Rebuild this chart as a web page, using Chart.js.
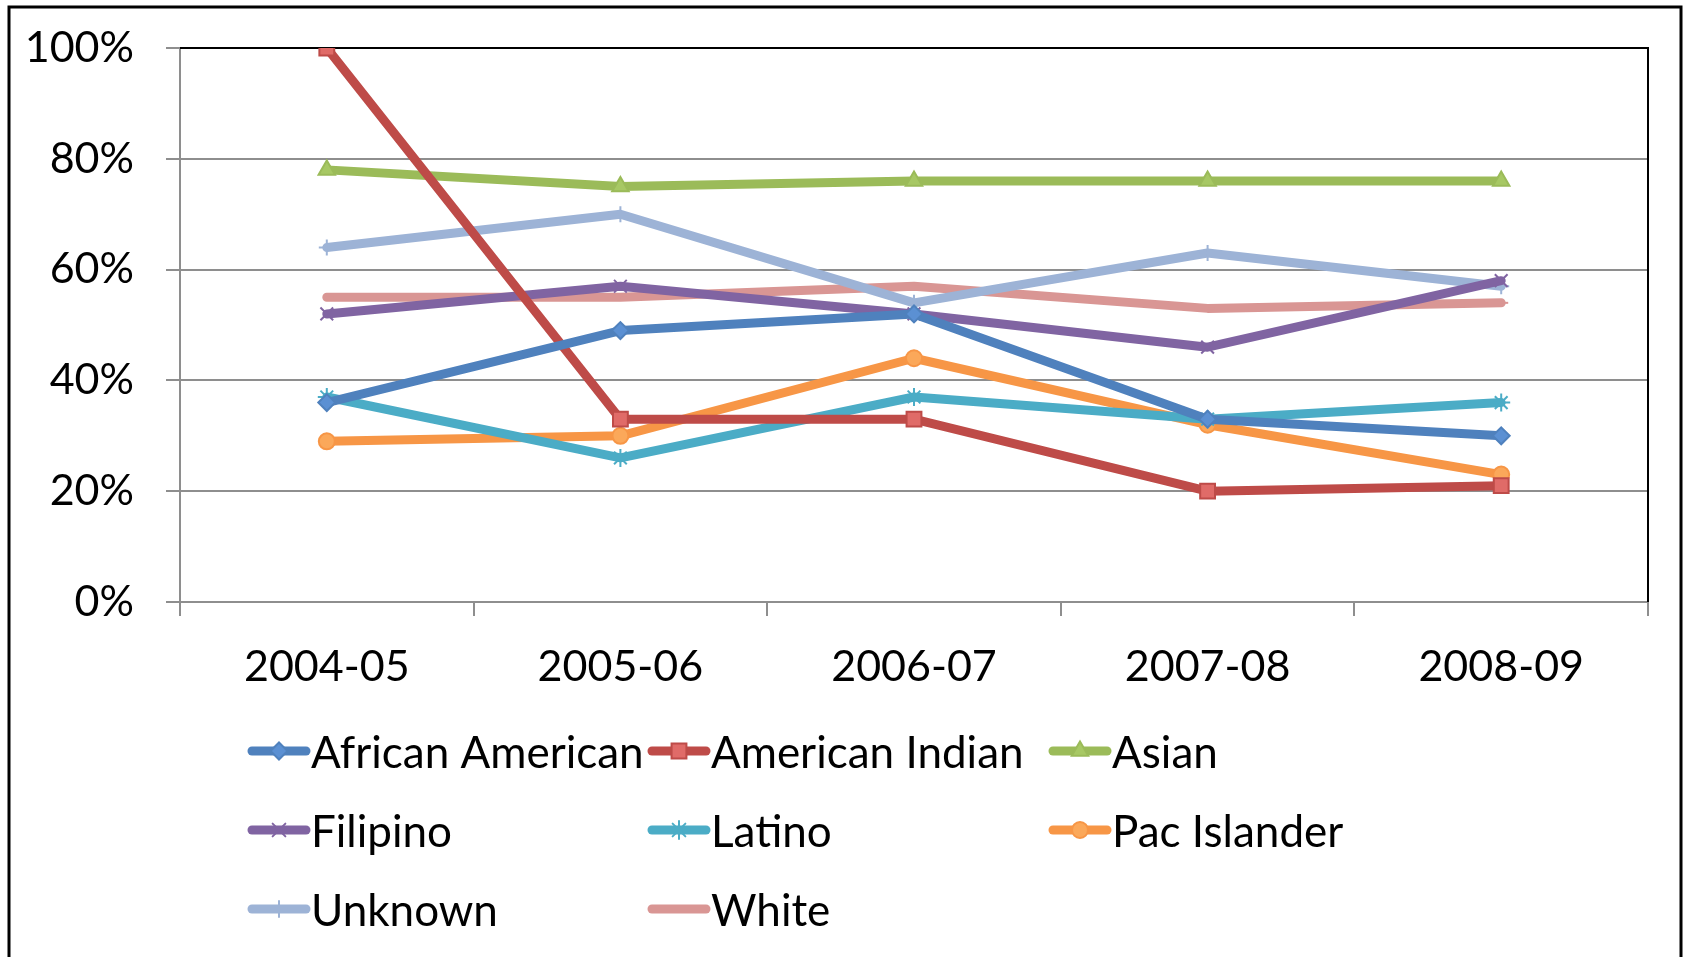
<!DOCTYPE html>
<html>
<head>
<meta charset="utf-8">
<script src="https://cdn.jsdelivr.net/npm/chart.js"></script>
<style>
  html, body { margin: 0; padding: 0; background: #fff; }
  #wrap { width: 1683px; height: 957px; position: relative; }
</style>
</head>
<body>
<div id="wrap"><canvas id="myChart" width="1683" height="957"></canvas></div>
<script>
const years = ['2004-05', '2005-06', '2006-07', '2007-08', '2008-09'];

const africanAmerican = [36, 49, 52, 33, 30];
const americanIndian = [100, 33, 33, 20, 21];
const asian = [78, 75, 76, 76, 76];
const filipino = [52, 57, 52, 46, 58];
const latino = [37, 26, 37, 33, 36];
const pacIslander = [29, 30, 44, 32, 23];
const unknown = [64, 70, 54, 63, 57];
const white = [55, 55, 57, 53, 54];

const yTickValues = [0, 20, 40, 60, 80, 100];

const FONT = 'Lato';
const GRAY = '#8e8e8e';

function series(label, data, line, fill, style, radius) {
    return {
        label: label,
        data: data,
        borderColor: line,
        backgroundColor: fill,
        borderWidth: 9,
        borderJoinStyle: 'round',
        borderCapStyle: 'round',
        tension: 0,
        fill: false,
        pointStyle: style,
        pointRadius: radius,
        pointBackgroundColor: fill,
        pointBorderColor: line,
        pointBorderWidth: 2
    };
}

// legend laid out in a 3 column grid, like the original
const legendGrid = {
    id: 'legendGrid',
    afterDraw(chart) {
        const ctx = chart.ctx;
        const cols = [252, 652, 1053];
        const rows = [751, 830, 909];
        chart.data.datasets.forEach((ds, i) => {
            const x = cols[i % 3];
            const y = rows[Math.floor(i / 3)];
            ctx.save();
            ctx.strokeStyle = ds.borderColor;
            ctx.lineWidth = 9;
            ctx.lineCap = 'round';
            ctx.beginPath();
            ctx.moveTo(x, y);
            ctx.lineTo(x + 54, y);
            ctx.stroke();
            if (Chart.helpers && Chart.helpers.drawPoint) {
                ctx.fillStyle = ds.pointBackgroundColor;
                ctx.strokeStyle = ds.pointBorderColor;
                ctx.lineWidth = ds.pointBorderWidth;
                Chart.helpers.drawPoint(ctx, {
                    pointStyle: ds.pointStyle,
                    radius: ds.pointRadius,
                    rotation: 0,
                    borderWidth: ds.pointBorderWidth
                }, x + 27, y);
            }
            ctx.fillStyle = '#000';
            ctx.font = '44px ' + FONT;
            ctx.textBaseline = 'middle';
            ctx.textAlign = 'left';
            ctx.fillText(ds.label, x + 59, y + 3);
            ctx.restore();
        });
    }
};

// black top/right frame of the plot area and the outer chart border
const frames = {
    id: 'frames',
    beforeDatasetsDraw(chart) {
        const a = chart.chartArea;
        const ctx = chart.ctx;
        ctx.save();
        ctx.strokeStyle = '#000';
        ctx.lineWidth = 2;
        ctx.beginPath();
        ctx.moveTo(a.left, a.top);
        ctx.lineTo(a.right, a.top);
        ctx.lineTo(a.right, a.bottom);
        ctx.stroke();
        ctx.restore();
    },
    afterDraw(chart) {
        const ctx = chart.ctx;
        ctx.save();
        ctx.strokeStyle = '#000';
        ctx.lineWidth = 3;
        ctx.strokeRect(9, 7, 1672, 1000);
        ctx.restore();
    }
};

const config = {
    type: 'line',
    data: {
        labels: years,
        datasets: [
            series('African American', africanAmerican, '#4f81bd', '#5b90d3', 'rectRot', 8.5),
            series('American Indian', americanIndian, '#be4b48', '#e06b68', 'rect', 10.5),
            series('Asian', asian, '#9bbb59', '#a7c864', 'triangle', 9.5),
            series('Filipino', filipino, '#8064a2', '#8064a2', 'crossRot', 9),
            series('Latino', latino, '#4bacc6', '#4bacc6', 'star', 9),
            series('Pac Islander', pacIslander, '#f79646', '#fba85a', 'circle', 8),
            series('Unknown', unknown, '#9db3d6', '#7f97c0', 'cross', 8),
            series('White', white, '#d99694', '#e8b0ae', 'dash', 7)
        ]
    },
    options: {
        responsive: false,
        animation: false,
        layout: {
            padding: { left: 0, right: 35, top: 48, bottom: 0 }
        },
        plugins: {
            legend: { display: false },
            tooltip: { enabled: false },
            title: { display: false }
        },
        scales: {
            x: {
                offset: true,
                grid: {
                    offset: true,
                    drawOnChartArea: false,
                    drawTicks: true,
                    tickLength: 14,
                    color: GRAY,
                    lineWidth: 2
                },
                border: { color: GRAY, width: 2 },
                ticks: {
                    color: '#000',
                    font: { family: FONT, size: 43 },
                    padding: 25,
                    maxRotation: 0
                },
                afterFit(scale) { scale.height = 355; }
            },
            y: {
                min: 0,
                max: 100,
                afterBuildTicks(scale) {
                    scale.ticks = yTickValues.map(v => ({ value: v }));
                },
                grid: {
                    color: GRAY,
                    lineWidth: 2,
                    drawTicks: true,
                    tickLength: 14
                },
                border: { color: GRAY, width: 2 },
                ticks: {
                    color: '#000',
                    // small lineHeight keeps the label padding from pushing the plot down
                    font: { family: FONT, size: 43, lineHeight: 0.7 },
                    padding: 32,
                    callback: v => v + '%'
                },
                afterFit(scale) { scale.width = 180; }
            }
        }
    },
    plugins: [frames, legendGrid]
};

const chart = new Chart(document.getElementById('myChart'), config);
</script>
</body>
</html>
